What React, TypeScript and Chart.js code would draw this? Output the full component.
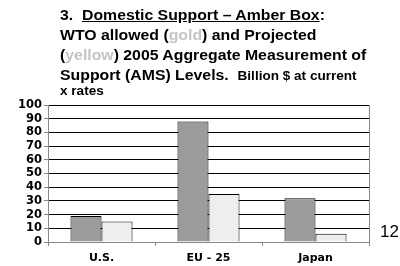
import React, { useEffect, useRef } from "react";
import { Chart, registerables } from "chart.js";

Chart.register(...registerables);

const categories = ["U.S.", "EU - 25", "Japan"];
const goldAllowed = [19, 88, 32];
const yellowProjected = [15, 35, 6];
const yMin = 0;
const yMax = 100;
const yStep = 10;

export default function App() {
  const ref = useRef<HTMLCanvasElement | null>(null);

  useEffect(() => {
    if (!ref.current) return;
    const borderPlugin = {
      id: "rightBorder",
      afterDraw(chart: any) {
        const { ctx, chartArea } = chart;
        ctx.save();
        ctx.strokeStyle = "#888888";
        ctx.lineWidth = 1;
        ctx.beginPath();
        ctx.moveTo(Math.round(chartArea.right) + 0.5, chartArea.top);
        ctx.lineTo(Math.round(chartArea.right) + 0.5, chartArea.bottom);
        ctx.stroke();
        ctx.restore();
      },
    };
    const chart = new Chart(ref.current, {
      type: "bar",
      data: {
        labels: categories,
        datasets: [
          {
            label: "WTO allowed (gold)",
            data: goldAllowed,
            backgroundColor: "#9c9c9c",
            borderColor: "#000000",
            borderWidth: 1,
            categoryPercentage: 0.58,
            barPercentage: 1,
          },
          {
            label: "Projected (yellow)",
            data: yellowProjected,
            backgroundColor: "#eeeeee",
            borderColor: "#000000",
            borderWidth: 1,
            categoryPercentage: 0.58,
            barPercentage: 1,
          },
        ],
      },
      options: {
        responsive: false,
        animation: false,
        layout: { padding: { left: 0, top: 105, right: 31, bottom: 0 } },
        plugins: { legend: { display: false }, title: { display: false }, tooltip: { enabled: false } },
        scales: {
          y: {
            min: yMin,
            max: yMax,
            ticks: {
              stepSize: yStep,
              autoSkip: false,
              color: "#000000",
              font: { family: "'DejaVu Sans', sans-serif", size: 11.5, weight: "bold" },
              padding: 2,
            },
            grid: { color: "#000000", lineWidth: 1, tickLength: 4, tickColor: "#888888" },
            border: { display: true, color: "#888888", width: 1 },
            afterFit: (s: any) => {
              s.width = 48;
            },
          },
          x: {
            ticks: {
              color: "#000000",
              font: { family: "'DejaVu Sans', sans-serif", size: 11, weight: "bold" },
              padding: 6,
            },
            grid: { drawOnChartArea: false, tickLength: 4, color: "#888888", offset: true },
            border: { display: true, color: "#888888", width: 1 },
            afterFit: (s: any) => {
              s.height = 24;
            },
          },
        },
      },
      plugins: [borderPlugin],
    });
    return () => chart.destroy();
  }, []);

  const font = "Arial, 'Liberation Sans', sans-serif";
  const lineStyle: React.CSSProperties = {
    position: "absolute",
    left: 0,
    fontFamily: font,
    fontWeight: "bold",
    fontSize: 14,
    lineHeight: "20px",
    whiteSpace: "nowrap",
    color: "#000",
  };
  const light: React.CSSProperties = { color: "#c4c4c4" };

  return (
    <div style={{ position: "fixed", left: 0, top: 0, width: 400, height: 266, background: "#fff" }}>
      <canvas ref={ref} width={400} height={266} style={{ position: "absolute", left: 0, top: 0 }} />
      <div
        style={{
          position: "absolute",
          left: 60,
          top: 0,
          width: 300,
          height: 100,
          transform: "scaleX(1.13)",
          transformOrigin: "0 0",
        }}
      >
        <div style={{ ...lineStyle, top: 5 }}>
          3.&nbsp; <span style={{ textDecoration: "underline" }}>Domestic Support – Amber Box</span>:
        </div>
        <div style={{ ...lineStyle, top: 25 }}>
          WTO allowed (<span style={light}>gold</span>) and Projected
        </div>
        <div style={{ ...lineStyle, top: 45 }}>
          (<span style={light}>yellow</span>) 2005 Aggregate Measurement of
        </div>
        <div style={{ ...lineStyle, top: 65 }}>
          Support (AMS) Levels.&nbsp;{" "}
          <span style={{ fontSize: 12 }}>Billion $ at current</span>
        </div>
        <div style={{ ...lineStyle, top: 83, fontSize: 12, lineHeight: "16px" }}>x rates</div>
      </div>
      <div
        style={{
          position: "absolute",
          left: 380,
          top: 222,
          fontFamily: font,
          fontSize: 17,
          lineHeight: "20px",
          color: "#000",
        }}
      >
        12
      </div>
    </div>
  );
}
